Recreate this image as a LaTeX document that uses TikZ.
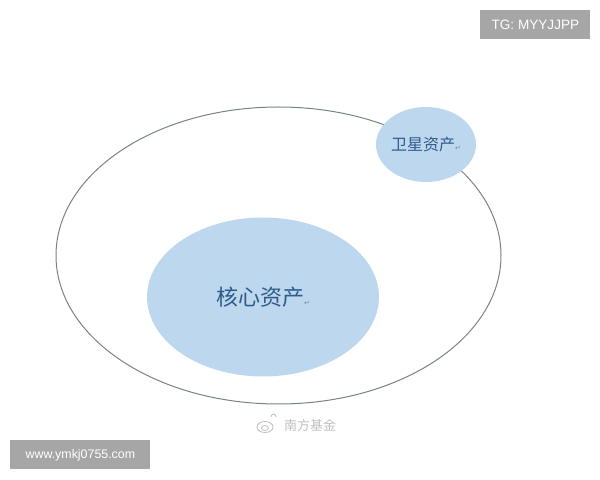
\documentclass[tikz,border=0pt]{standalone}
\usepackage{fontspec}
\setmainfont{Liberation Sans}
\newfontfamily\cjk{Noto Sans CJK SC}
\newfontfamily\symb{DejaVu Sans}
\usetikzlibrary{shapes.geometric}

\definecolor{assetfill}{HTML}{BDD7EE}
\definecolor{assettext}{HTML}{2E5C8A}
\definecolor{ringline}{HTML}{7A8288}
\definecolor{markgray}{HTML}{A6A6A6}

\newcommand{\retmark}{{\symb\fontsize{3.5}{4}\selectfont\color{assettext!70}↵}}

\tikzset{
  asset/.style={ellipse, fill=assetfill, inner sep=0pt, text=assettext},
  markbox/.style={rectangle, fill=markgray, text=white, inner sep=0pt, anchor=north west}
}

\begin{document}
\begin{tikzpicture}[x=0.5pt, y=-0.5pt]
  \useasboundingbox (0, 0) rectangle (600, 480);

  % whole portfolio
  \node[ellipse, draw=ringline, line width=0.5pt, inner sep=0pt, minimum width=222.5pt, minimum height=148.5pt] (all) at (278.5, 255.5) {};

  % core and satellite
  \node[asset, minimum width=116pt, minimum height=79.5pt, font=\cjk\fontsize{11}{13}\selectfont] (core) at (263, 297) {核心资产\retmark};
  \node[asset, minimum width=50pt, minimum height=37.5pt, font=\cjk\fontsize{8}{10}\selectfont] (sat) at (426, 144.5) {卫星资产\retmark};

  % watermarks
  \node[markbox, minimum width=55pt, minimum height=14.5pt, font=\fontsize{6.8}{8}\selectfont] (tg) at (480, 10) {TG: MYYJJPP};
  \node[markbox, minimum width=70pt, minimum height=14.5pt, font=\fontsize{6.2}{8}\selectfont] (web) at (10, 440) {www.ymkj0755.com};

  \node[font=\cjk\fontsize{6.5}{8}\selectfont, text=black!25, inner sep=0pt] (weibo) at (310, 426) {南方基金};
  \draw[black!25, line width=0.4pt] (265, 427) ellipse (8 and 5.5);
  \draw[black!25, line width=0.4pt] (265, 428) ellipse (3.5 and 2.5);
  \draw[black!25, line width=0.4pt] (271, 417) arc (180:360:2.5 and 3);
\end{tikzpicture}
\end{document}
